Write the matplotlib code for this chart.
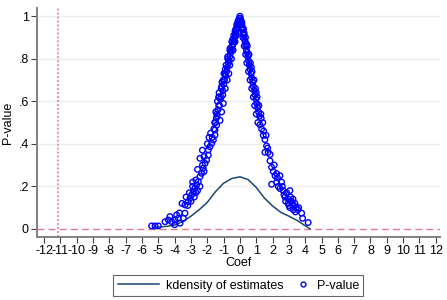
import matplotlib.pyplot as plt
from matplotlib.lines import Line2D
from matplotlib.legend_handler import HandlerLine2D

plt.rcParams['font.family'] = ['Liberation Sans', 'DejaVu Sans']

# kernel density of the estimates
kd_x = [-5.1, -4.5, -4.0, -3.5, -3.0, -2.5, -2.0, -1.5, -1.0, -0.5, 0.0,
        0.5, 1.0, 1.5, 2.0, 2.5, 3.0, 3.5, 4.0, 4.3]
kd_y = [0.008, 0.012, 0.018, 0.035, 0.06, 0.09, 0.125, 0.175, 0.215, 0.237, 0.245,
        0.232, 0.195, 0.145, 0.108, 0.078, 0.06, 0.04, 0.015, 0.0]

# placebo coefficients and their p-values
coef = [
    # left, low part
    -5.41, -5.20, -5.00, -4.59, -4.39, -4.29, -4.18, -3.98, -3.88, -3.78, -3.67,
    -3.47, -3.37, -4.00, -3.70, -3.55, -3.37, -3.17, -3.06, -2.96, -2.86, -2.76,
    -2.65, -2.55, -2.45, -2.35, -2.25, -2.14, -2.04, -1.94, -2.45, -1.94, -1.84,
    -1.73, -1.63, -1.53, -1.53, -1.43, -3.30, -3.10, -2.90, -2.70, -2.60, -2.80,
    -3.20, -2.20, -2.30, -1.70, -1.60,
    -2.60, -2.30, -2.00, -1.80, -2.20, -2.70, -2.45, -3.00, -2.90, -1.90,
    # left, upper part
    -1.55, -1.45, -1.40, -1.48, -1.35, -1.25, -1.38, -1.20, -1.15, -1.28, -1.05,
    -1.12, -1.00, -0.95, -0.88, -0.98, -0.82, -0.78, -0.70, -0.66, -0.62, -0.56,
    -0.52, -0.46, -0.42, -0.37, -0.32, -0.28, -0.24, -0.19, -0.15, -0.11, -0.07,
    -0.04, 0.0, -1.30, -1.10, -0.90, -0.75, -0.60, -0.45, -0.30, -0.20, -0.10,
    -1.50, -1.22, -1.42, -1.12, -1.30, -1.02, -1.28, -1.05, -1.15, -0.90, -1.02,
    -0.78, -0.90, -0.68, -0.85, -0.62, -0.75, -0.52, -0.62, -0.42, -0.50, -0.30,
    -0.38, -0.22, -0.25, -0.12, -0.14, -0.05,
    # right, upper part
    0.03, 0.06, 0.10, 0.13, 0.17, 0.20, 0.25, 0.28, 0.32, 0.36, 0.40, 0.44, 0.48,
    0.53, 0.58, 0.62, 0.68, 0.72, 0.78, 0.82, 0.88, 0.93, 0.98, 1.03, 1.08, 1.14,
    1.20, 0.12, 0.26, 0.40, 0.55, 0.70, 0.85, 1.00, 1.15, 1.30,
    1.40, 1.10, 1.28, 1.00, 1.15, 0.90, 1.05, 0.82, 0.95, 0.72, 0.85, 0.62, 0.74,
    0.52, 0.64, 0.42, 0.54, 0.35, 0.45, 0.26, 0.34, 0.18, 0.22, 0.10, 0.12, 0.04,
    # right, low part
    1.22, 1.33, 1.43, 1.53, 1.63, 1.53, 1.73, 1.84, 1.94, 2.04, 2.25, 2.45, 1.94,
    2.25, 2.55, 2.45, 2.65, 2.86, 2.76, 2.96, 3.06, 3.16, 3.37, 2.96, 3.27, 3.06,
    3.78, 3.84, 4.18, 2.60, 2.80, 3.10, 3.30, 2.30, 1.70, 1.45, 3.45, 3.55, 3.20,
    1.85, 2.10, 1.60, 2.35, 2.70, 3.00, 3.40, 3.60, 2.15, 3.25,
]
pval = [
    0.014, 0.014, 0.014, 0.034, 0.042, 0.058, 0.034, 0.042, 0.066, 0.050, 0.027,
    0.050, 0.074, 0.020, 0.075, 0.120, 0.113, 0.128, 0.144, 0.160, 0.175, 0.191,
    0.207, 0.222, 0.246, 0.261, 0.285, 0.308, 0.324, 0.347, 0.332, 0.371, 0.386,
    0.402, 0.418, 0.441, 0.465, 0.488, 0.150, 0.170, 0.200, 0.230, 0.180, 0.150,
    0.110, 0.340, 0.370, 0.430, 0.470,
    0.28, 0.30, 0.40, 0.45, 0.27, 0.17, 0.20, 0.13, 0.22, 0.43,
    0.50, 0.52, 0.53, 0.55, 0.56, 0.58, 0.60, 0.61, 0.62, 0.64, 0.65,
    0.67, 0.68, 0.70, 0.72, 0.73, 0.74, 0.76, 0.78, 0.79, 0.81, 0.83,
    0.84, 0.86, 0.87, 0.88, 0.90, 0.91, 0.92, 0.94, 0.95, 0.96, 0.97,
    0.99, 1.00, 0.62, 0.69, 0.75, 0.81, 0.85, 0.89, 0.93, 0.96, 0.98,
    0.50, 0.51, 0.54, 0.55, 0.58, 0.59, 0.62, 0.63, 0.66, 0.66, 0.70,
    0.70, 0.73, 0.73, 0.77, 0.77, 0.80, 0.80, 0.84, 0.84, 0.88, 0.88,
    0.91, 0.91, 0.94, 0.95, 0.97, 0.97,
    0.99, 0.98, 0.97, 0.95, 0.94, 0.92, 0.91, 0.89, 0.88, 0.86, 0.84, 0.83, 0.81,
    0.79, 0.77, 0.75, 0.73, 0.71, 0.69, 0.67, 0.65, 0.63, 0.61, 0.59, 0.57, 0.55,
    0.53, 0.96, 0.92, 0.87, 0.82, 0.76, 0.70, 0.64, 0.58, 0.52,
    0.50, 0.50, 0.54, 0.54, 0.58, 0.58, 0.62, 0.62, 0.66, 0.66, 0.70, 0.70, 0.74,
    0.74, 0.78, 0.78, 0.82, 0.82, 0.86, 0.86, 0.90, 0.90, 0.94, 0.94, 0.97, 0.97,
    0.49, 0.47, 0.44, 0.42, 0.39, 0.36, 0.36, 0.32, 0.29, 0.27, 0.26, 0.25, 0.21,
    0.22, 0.22, 0.19, 0.18, 0.17, 0.15, 0.14, 0.18, 0.13, 0.12, 0.12, 0.09, 0.10,
    0.074, 0.050, 0.030, 0.20, 0.13, 0.15, 0.11, 0.24, 0.38, 0.46, 0.10, 0.09, 0.12,
    0.35, 0.30, 0.44, 0.20, 0.16, 0.11, 0.08, 0.10, 0.25, 0.14,
]

true_coef = -11.15
xticks = list(range(-12, 13))
yticks = [0, 0.2, 0.4, 0.6, 0.8, 1.0]
ytick_labels = ['0', '.2', '.4', '.6', '.8', '1']
ref_color = '#e07a92'
fs = 9


# longer line sample in the legend, marker sample stays short
class LongLine(HandlerLine2D):
    def legend_artist(self, legend, orig_handle, fontsize, handlebox):
        handlebox.width = handlebox.width * 3.3
        return super().legend_artist(legend, orig_handle, fontsize, handlebox)


fig = plt.figure(figsize=(4.47, 3.0), dpi=100)
ax = fig.add_axes([0.083, 0.21, 0.901, 0.763])

for y in yticks[1:]:
    ax.axhline(y, color='#e8eff0', lw=1.0, zorder=0)

ax.axhline(0, color=ref_color, lw=1.0, ls=(0, (5, 3)), zorder=1)
ax.axvline(true_coef, color=ref_color, lw=1.1, ls=(0, (1.3, 1.3)), zorder=1)

ax.plot(kd_x, kd_y, color='#1a476f', lw=1.1, zorder=2)
ax.scatter(coef, pval, s=16, facecolors='none', edgecolors='#0000ff',
           linewidths=1.0, zorder=3)

ax.set_xlim(-12.43, 12.25)
ax.set_ylim(-0.038, 1.038)
ax.set_xticks(xticks)
ax.set_xticklabels([str(t) for t in xticks])
ax.set_yticks(yticks)
ax.set_yticklabels(ytick_labels)
ax.tick_params(labelsize=fs, color='#404040', length=4, pad=2)
ax.set_xlabel('Coef', fontsize=fs, labelpad=0)
ax.set_ylabel('P-value', fontsize=fs, labelpad=3)

for s in ['top', 'right']:
    ax.spines[s].set_visible(False)
for s in ['left', 'bottom']:
    ax.spines[s].set_color('#808080')
    ax.spines[s].set_linewidth(1.4)

line_h = Line2D([0], [0], color='#1a476f', lw=1.1)
dot_h = Line2D([0], [0], ls='none', marker='o', markersize=3.5,
               markerfacecolor='none', markeredgecolor='#0000ff', markeredgewidth=1.0)
leg = fig.legend([line_h, dot_h], ['kdensity of estimates', 'P-value'], ncol=2,
                 loc='center', bbox_to_anchor=(0.533, 0.048), fontsize=fs,
                 fancybox=False, edgecolor='#404040', handlelength=1.0,
                 handletextpad=0.6, columnspacing=1.0, borderpad=0.35,
                 handler_map={line_h: LongLine()})
leg.get_frame().set_linewidth(0.8)

fig.savefig('out.png', dpi=100)
